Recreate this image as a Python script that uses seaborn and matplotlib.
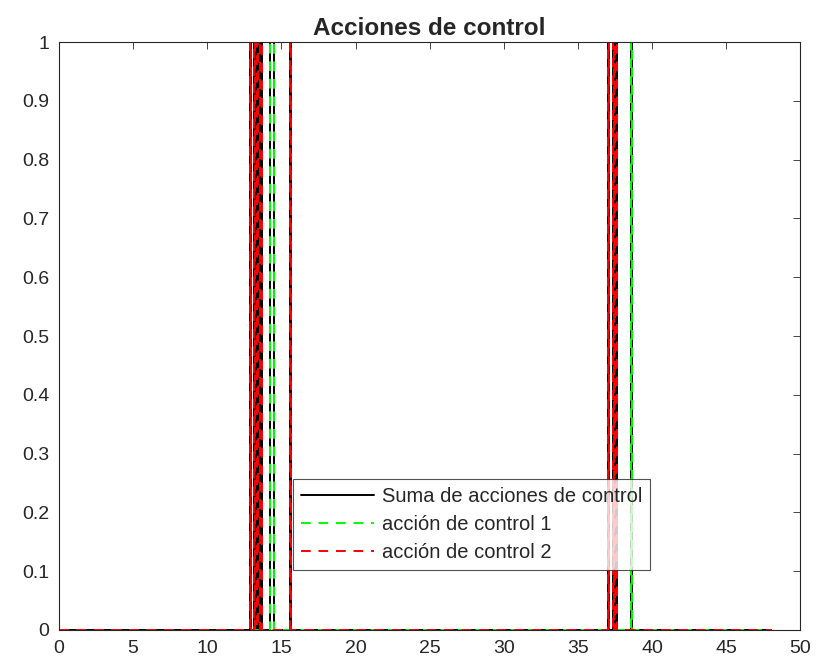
import numpy as np
import pandas as pd
import matplotlib
matplotlib.use("Agg")
import matplotlib.pyplot as plt
import seaborn as sns

# Transition times and signal levels (step-post)
t = [0, 12.85, 12.92, 13.15, 13.25, 13.35, 13.45, 13.55, 13.68,
     14.25, 14.48, 15.55, 15.62,
     37.02, 37.10, 37.35, 37.42, 37.52, 37.62, 38.55, 38.62, 48]
u1 = [0, 0, 0, 0, 0, 0, 0, 0, 0,
      1, 0, 0, 0,
      0, 0, 0, 0, 0, 0, 1, 0, 0]
u2 = [0, 1, 0, 1, 0, 1, 0, 1, 0,
      0, 0, 1, 0,
      1, 0, 1, 0, 1, 0, 0, 0, 0]
total = [a + b for a, b in zip(u1, u2)]

title = "Acciones de control"
labels = ["Suma de acciones de control", "acción de control 1", "acción de control 2"]

df = pd.DataFrame({"t": t, "u1": u1, "u2": u2, "sum": total})

sns.set_style("white")
plt.rcParams["font.family"] = ["Liberation Sans", "DejaVu Sans"]

fig = plt.figure(figsize=(8.2, 6.68), dpi=100)
ax = fig.add_axes([0.072, 0.057, 0.904, 0.88])

sns.lineplot(data=df, x="t", y="sum", ax=ax, color="black", lw=1.4,
             drawstyle="steps-post", label=labels[0], sort=False)
sns.lineplot(data=df, x="t", y="u1", ax=ax, color="#00ff00", lw=1.4,
             drawstyle="steps-post", label=labels[1], sort=False,
             dashes=False, linestyle=(0, (5, 4)))
sns.lineplot(data=df, x="t", y="u2", ax=ax, color="#ff0000", lw=1.4,
             drawstyle="steps-post", label=labels[2], sort=False,
             dashes=False, linestyle=(0, (5, 4)))

ax.set_xlim(0, 50)
ax.set_ylim(0, 1)
ax.set_xticks(np.arange(0, 51, 5))
ax.set_yticks(np.round(np.arange(0, 1.01, 0.1), 1))
ax.set_yticklabels(["0", "0.1", "0.2", "0.3", "0.4", "0.5", "0.6", "0.7", "0.8", "0.9", "1"])
ax.set_xlabel("")
ax.set_ylabel("")
ax.set_title(title, fontsize=17.5, fontweight="bold", pad=5)
ax.tick_params(direction="in", length=5, top=True, right=True,
               labelsize=14, colors="#262626", width=0.6, pad=7)
for s in ax.spines.values():
    s.set_color("#262626")
    s.set_linewidth(0.8)
    s.set_visible(True)

leg = ax.legend(loc="lower left", bbox_to_anchor=(0.316, 0.102), fontsize=14.5,
                frameon=True, fancybox=False, edgecolor="#262626",
                borderaxespad=0, handlelength=3.6, handletextpad=0.4,
                borderpad=0.4, labelspacing=0.45)
leg.get_frame().set_linewidth(0.8)
for txt in leg.get_texts():
    txt.set_color("#262626")

fig.savefig("out.png", dpi=100)
